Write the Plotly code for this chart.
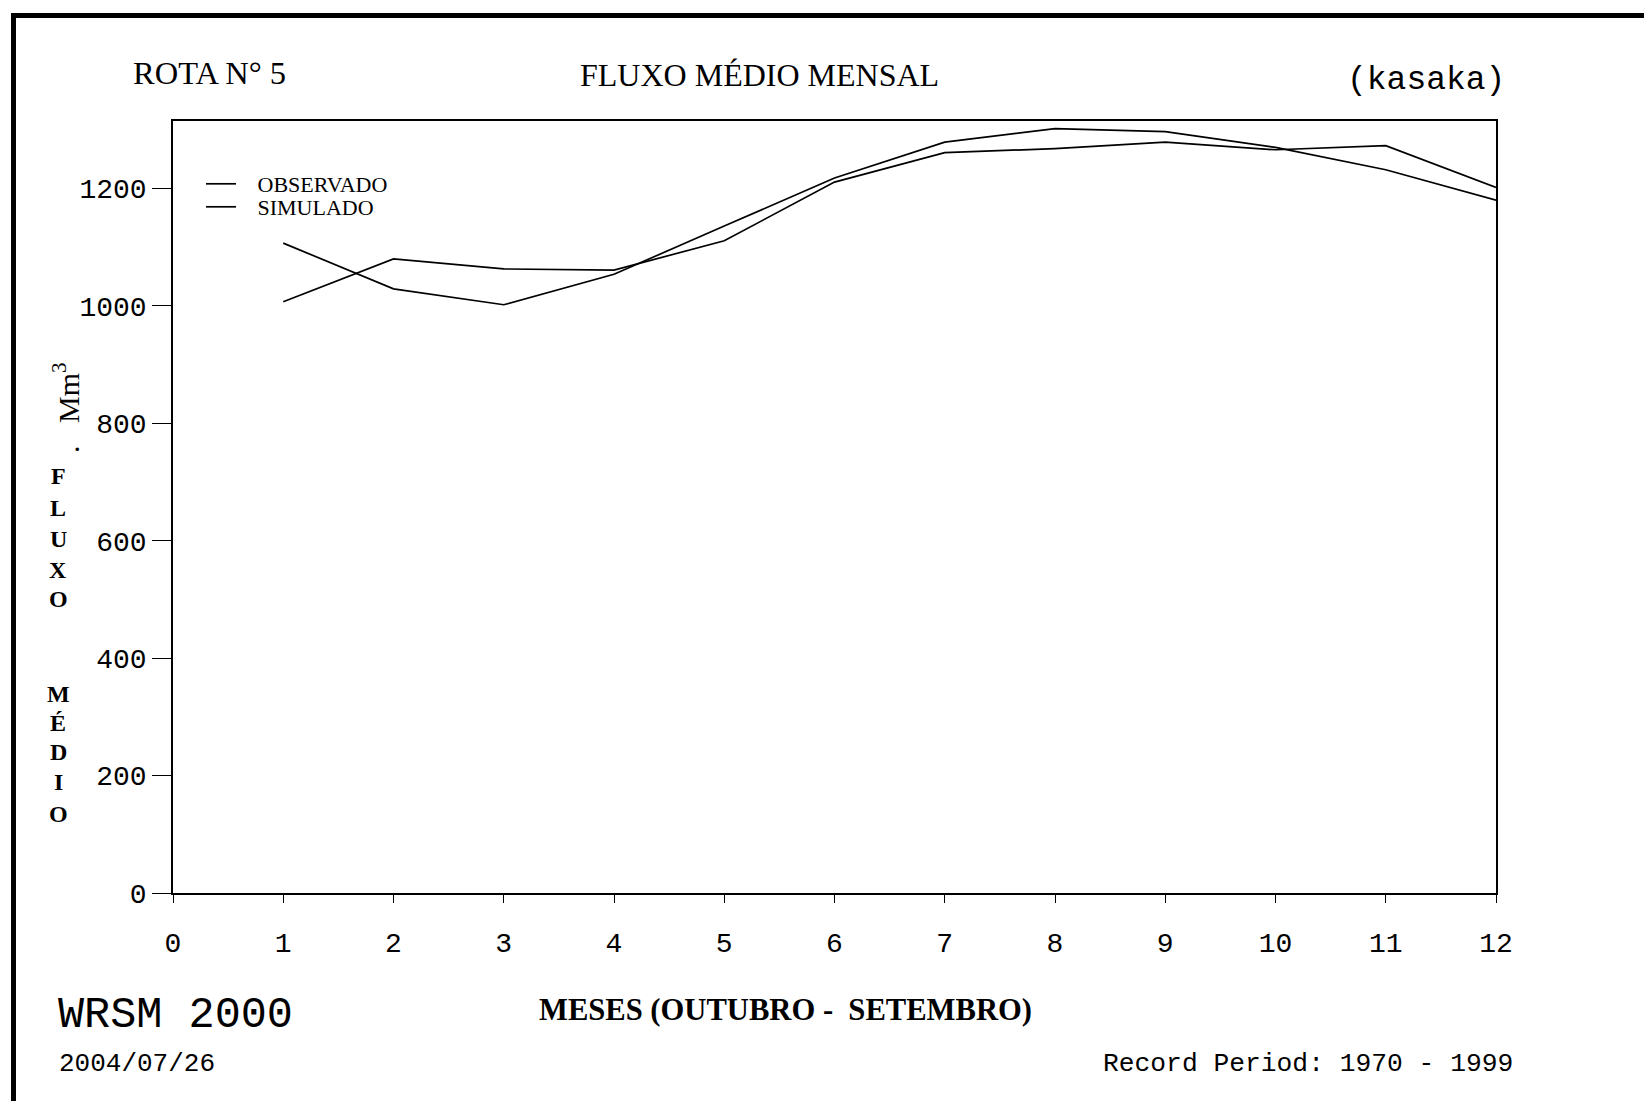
import plotly.graph_objects as go

months = [1, 2, 3, 4, 5, 6, 7, 8, 9, 10, 11, 12]
observado = [1107, 1029, 1002, 1054, 1136, 1218, 1279, 1302, 1297, 1270, 1232, 1180]
simulado = [1007, 1080, 1063, 1061, 1111, 1211, 1261, 1268, 1279, 1266, 1273, 1202]
x_ticks = [0, 1, 2, 3, 4, 5, 6, 7, 8, 9, 10, 11, 12]
y_ticks = [0, 200, 400, 600, 800, 1000, 1200]

W, H = 1644, 1101
L, R, T, B = 173, 1496, 121, 893


def px(x):
    return x / W


def py(y):
    return 1 - y / H


mono = "Liberation Mono"
serif = "Liberation Serif"
NB = "\u00a0"

fig = go.Figure()
fig.add_trace(go.Scatter(x=months, y=observado, mode="lines", name=NB * 3 + "OBSERVADO",
                         legend="legend", line=dict(color="black", width=1.7)))
fig.add_trace(go.Scatter(x=months, y=simulado, mode="lines", name=NB * 3 + "SIMULADO",
                         legend="legend2", line=dict(color="black", width=1.7)))

leg_common = dict(xanchor="left", yanchor="middle", bgcolor="rgba(0,0,0,0)",
                  font=dict(family=serif, size=22, color="black"), itemwidth=30,
                  borderwidth=0)

fig.update_layout(
    width=W, height=H,
    margin=dict(l=0, r=0, t=0, b=0, pad=0, autoexpand=False),
    paper_bgcolor="white", plot_bgcolor="white",
    showlegend=True,
    legend=dict(x=px(201), y=py(184), **leg_common),
    legend2=dict(x=px(201), y=py(207), **leg_common),
    xaxis=dict(domain=[px(L), px(R)], range=[0, 12], tickvals=x_ticks, automargin=False,
               showgrid=False, zeroline=False, showline=True, linecolor="black",
               linewidth=1.5, mirror=True, ticks="outside", ticklen=8, tickcolor="black",
               ticklabelstandoff=16,
               tickfont=dict(family=mono, size=28, color="black")),
    yaxis=dict(domain=[py(B), py(T)], range=[0, 1315], tickvals=y_ticks, automargin=False,
               showgrid=False, zeroline=False, showline=True, linecolor="black",
               linewidth=1.5, mirror=True, ticks="outside", ticklen=19, tickcolor="black",
               tickfont=dict(family=mono, size=28, color="black")),
)

ann = []


def text(x, y, s, font, size, xanchor="center", angle=0):
    ann.append(dict(x=px(x), y=py(y), xref="paper", yref="paper", text=s,
                    showarrow=False, xanchor=xanchor, yanchor="middle", textangle=angle,
                    font=dict(family=font, size=size, color="black")))


text(131, 73, "ROTA N° 5", serif, 32.5, xanchor="left")
text(759, 75, "FLUXO MÉDIO MENSAL", serif, 32)
text(1507, 81, "(kasaka)", mono, 33, xanchor="right")
text(56, 1015, "WRSM 2000", mono, 43.5, xanchor="left")
text(57, 1064, "2004/07/26", mono, 26, xanchor="left")
text(785, 1010, "<b>MESES (OUTUBRO -  SETEMBRO)</b>", serif, 30.6)
text(1515, 1064, "Record Period: 1970 - 1999", mono, 26.3, xanchor="right")

for ch, yy in zip("FLUXO", [476, 508, 539, 570, 599]):
    text(58, yy, "<b>" + ch + "</b>", serif, 24)
for ch, yy in zip("MÉDIO", [694, 723, 752, 782, 814]):
    text(58, yy, "<b>" + ch + "</b>", serif, 24)
text(66, 408, "." + NB * 3 + "Mm<sup>3</sup>", serif, 30, angle=-90)

fig.update_layout(annotations=ann)

fig.update_layout(shapes=[
    dict(type="line", xref="paper", yref="paper", x0=px(13.5), x1=px(13.5), y0=py(13), y1=0,
         line=dict(color="black", width=5)),
    dict(type="line", xref="paper", yref="paper", x0=px(11), x1=1, y0=py(15.5), y1=py(15.5),
         line=dict(color="black", width=5)),
])

post = ("document.documentElement.style.margin='0';document.documentElement.style.padding='0';"
        "document.body.style.margin='0';document.body.style.padding='0';"
        "document.body.style.overflow='hidden';document.documentElement.style.overflow='hidden';"
        "var d=document.getElementById('{plot_id}');d.style.position='fixed';"
        "d.style.left='0px';d.style.top='0px';")

fig.write_html("out.html", config={"displayModeBar": False}, post_script=post)
